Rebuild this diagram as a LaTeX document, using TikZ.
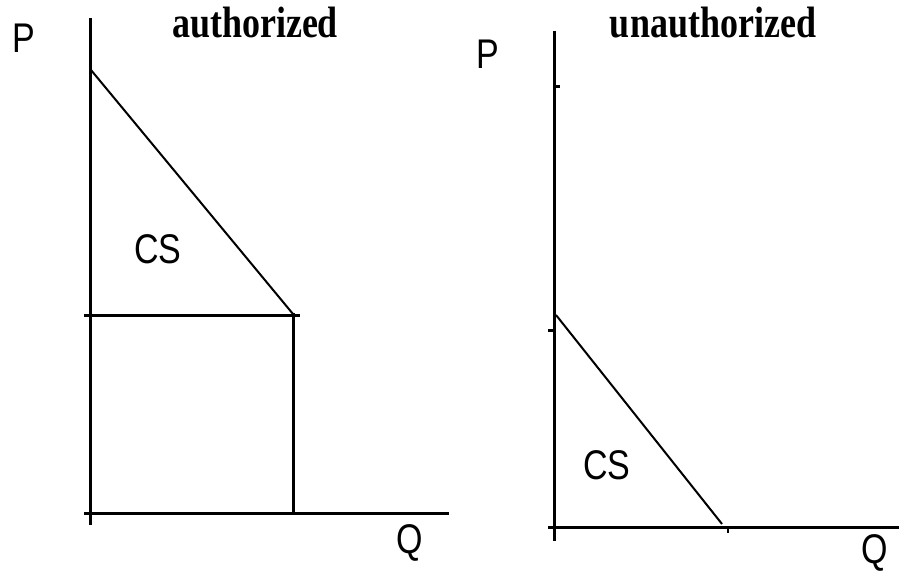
\documentclass[tikz,border=0pt]{standalone}
\usepackage{fontspec}
\usepackage{graphicx}
\setmainfont{Liberation Serif}
\newfontfamily\lsans{Liberation Sans}
\newcommand{\tallt}[1]{\scalebox{1}[1.22]{#1}}
\begin{document}
\begin{tikzpicture}[x=1pt,y=-1pt,
  axis/.style={line width=3pt,line cap=rect},
  dem/.style={line width=2pt},
  tick/.style={line width=3pt},
  lab/.style={font=\lsans\fontsize{34}{36}\selectfont,inner sep=0pt},
  ttl/.style={font=\fontsize{36}{38}\selectfont\bfseries,inner sep=0pt}]
\useasboundingbox (0,0) rectangle (899,572);
% left panel
\coordinate (LYt) at (90,20);
\coordinate (LYb) at (90,523);
\coordinate (LXl) at (85,513);
\coordinate (LXr) at (447,513);
\coordinate (LD1) at (91,70);
\coordinate (LD2) at (293,314);
\coordinate (LPl) at (85,315);
\coordinate (LPr) at (298,315);
\coordinate (LQb) at (293,513);
\draw[axis] (LYt) -- (LYb);
\draw[axis] (LXl) -- (LXr);
\draw[axis] (LPl) -- (LPr);
\draw[axis] (LD2) -- (LQb);
\draw[dem] (LD1) -- (LD2);
\node[lab] (lp) at (24,38) {\tallt{P}};
\node[lab] (lq) at (410,543) {\tallt{Q}};
\node[lab] (lcs) at (158,249) {\tallt{CS}};
\node[ttl] (lt) at (255,23) {\tallt{authorized}};
% right panel
\coordinate (RYt) at (554,33);
\coordinate (RYb) at (554,539);
\coordinate (RXl) at (549,527);
\coordinate (RXr) at (899,527);
\coordinate (RT1a) at (554,87);
\coordinate (RT1b) at (560,87);
\coordinate (RT2a) at (548,330);
\coordinate (RT2b) at (554,330);
\coordinate (RT3a) at (728,527);
\coordinate (RT3b) at (728,533);
\coordinate (RD1) at (556,315);
\coordinate (RD2) at (722,524);
\draw[axis] (RYt) -- (RYb);
\draw[axis] (RXl) -- (RXr);
\draw[tick] (RT1a) -- (RT1b);
\draw[tick] (RT2a) -- (RT2b);
\draw[line width=2pt] (RT3a) -- (RT3b);
\draw[dem] (RD1) -- (RD2);
\node[lab] (rp) at (488,54) {\tallt{P}};
\node[lab] (rq) at (875,553) {\tallt{Q}};
\node[lab] (rcs) at (607,465) {\tallt{CS}};
\node[ttl] (rt) at (713,23) {\tallt{unauthorized}};
\end{tikzpicture}
\end{document}
